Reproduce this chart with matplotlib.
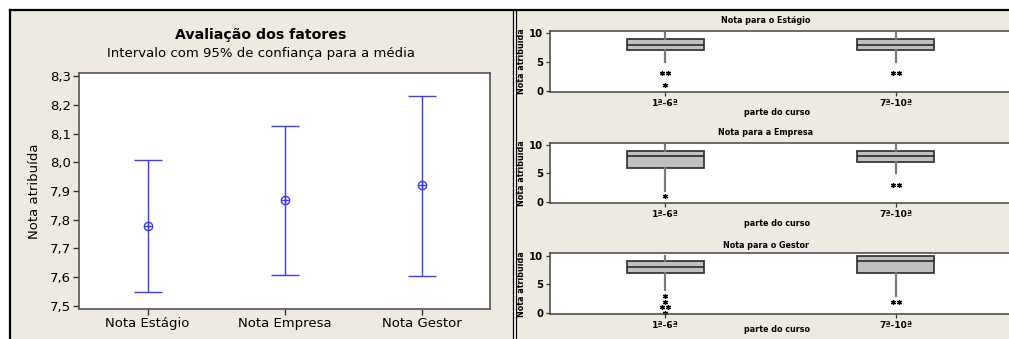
import numpy as np
import matplotlib
matplotlib.use("Agg")
import matplotlib.pyplot as plt
from matplotlib.lines import Line2D

plt.rcParams['font.family'] = ['DejaVu Sans']

# Left chart: 95% CI for the mean
factors = ["Nota Estágio", "Nota Empresa", "Nota Gestor"]
means = [7.778, 7.868, 7.920]
ci_low = [7.547, 7.608, 7.605]
ci_high = [8.008, 8.127, 8.232]
y_ticks_left = [7.5, 7.6, 7.7, 7.8, 7.9, 8.0, 8.1, 8.2, 8.3]

# Right charts: boxplots by part of the course
groups = ["1ª-6ª", "7ª-10ª"]
panel_titles = ["Nota para o Estágio", "Nota para a Empresa", "Nota para o Gestor"]
q1 = [[7, 7], [6, 7], [7, 7]]
medians = [[8, 8], [8, 8], [8, 9]]
q3 = [[9, 9], [9, 9], [9, 10]]
whis_lo = [[5, 5], [2, 5], [4, 3]]
whis_hi = [[10, 10], [10, 10], [10, 10]]
outliers = [[[3, 3, 1], [3, 3]],
            [[1], [3, 3]],
            [[3, 2, 1, 1, 0], [2, 2]]]

W, H = 1009, 339
BEIGE = "#EEEAE1"
BLUE = "#3C3CFF"


def rect(x0, y0, x1, y1):
    return [x0 / W, 1 - y1 / H, (x1 - x0) / W, (y1 - y0) / H]


fig = plt.figure(figsize=(W / 100, H / 100), dpi=100, facecolor="white")

# panel backgrounds and borders
bg = fig.add_axes([0, 0, 1, 1])
bg.set_xlim(0, W)
bg.set_ylim(H, 0)
bg.axis("off")
bg.add_patch(plt.Rectangle((10, 10), 503, 330, color=BEIGE, lw=0))
bg.add_patch(plt.Rectangle((516, 10), 500, 330, color=BEIGE, lw=0))
bg.add_line(Line2D([10, W], [10, 10], color="black", lw=1.6))
bg.add_line(Line2D([10, 10], [10, H], color="black", lw=1.6))
bg.add_line(Line2D([513, 513], [10, H], color="black", lw=0.9))
bg.add_line(Line2D([515.5, 515.5], [10, H], color="black", lw=0.9))

# ---- left chart ----
ax = fig.add_axes(rect(79, 73, 490, 309))
x = np.arange(1, len(factors) + 1)
means_arr = np.array(means)
yerr = [means_arr - np.array(ci_low), np.array(ci_high) - means_arr]
ax.errorbar(x, means, yerr=yerr, fmt="none", ecolor=BLUE, elinewidth=1.0,
            capsize=10, capthick=1.0)
ax.plot(x, means, "o", ms=6, mfc="none", mec=BLUE, mew=1.0)
ax.plot(x, means, "+", ms=6, mec=BLUE, mew=1.0)
ax.set_xlim(0.5, 3.5)
ax.set_ylim(7.489, 8.311)
ax.set_yticks(y_ticks_left)
ax.set_yticklabels([f"{v:.1f}".replace(".", ",") for v in y_ticks_left], fontsize=9.5)
ax.set_xticks(x)
ax.set_xticklabels(factors, fontsize=9.5)
ax.set_ylabel("Nota atribuída", fontsize=9.5, labelpad=6)
for s in ax.spines.values():
    s.set_color("#555555")
    s.set_linewidth(1.2)
ax.tick_params(length=4, width=1, color="#333333", pad=2)
fig.text(261 / W, 1 - 35 / H, "Avaliação dos fatores", ha="center", va="center",
         fontsize=10.2, fontweight="bold")
fig.text(261 / W, 1 - 54 / H, "Intervalo com 95% de confiança para a média",
         ha="center", va="center", fontsize=9.5)

# ---- right charts ----
axes_y = [(30.7, 92), (142.7, 203.3), (253.3, 314.3)]
title_y = [20.7, 132.3, 245]
xlabel_y = [112.3, 223.7, 329]

for p in range(3):
    y0, y1 = axes_y[p]
    bx = fig.add_axes(rect(550, y0, 1011, y1))
    stats = []
    for g in range(2):
        stats.append(dict(med=medians[p][g], q1=q1[p][g], q3=q3[p][g],
                          whislo=whis_lo[p][g], whishi=whis_hi[p][g], fliers=[]))
    bx.bxp(stats, positions=[1, 2], widths=0.333, showfliers=False,
           showcaps=False, patch_artist=True,
           boxprops=dict(facecolor="#C0C0C0", edgecolor="#2A2A2A", linewidth=1.2),
           medianprops=dict(color="#2A2A2A", linewidth=1.2),
           whiskerprops=dict(color="#7A7A7A", linewidth=1.6))
    for g in range(2):
        vals = outliers[p][g]
        for v in sorted(set(vals)):
            n = vals.count(v)
            offs = (np.arange(n) - (n - 1) / 2) * 0.026
            bx.plot(g + 1 + offs, [v] * n, linestyle="none", marker=(6, 2, 0),
                    ms=3.6, mew=0.9, color="black")
    bx.set_xlim(0.5, 2.5)
    bx.set_ylim(-0.23, 10.4)
    bx.set_yticks([0, 5, 10])
    bx.set_yticklabels(["0", "5", "10"], fontsize=7.3, fontweight="bold")
    bx.set_xticks([1, 2])
    bx.set_xticklabels(groups, fontsize=6.6, fontweight="bold")
    bx.set_ylabel("Nota atribuída", fontsize=5.8, fontweight="bold", labelpad=2)
    for s in bx.spines.values():
        s.set_color("#444444")
        s.set_linewidth(1.1)
    bx.tick_params(length=3, width=0.9, color="#333333", pad=2)
    fig.text(766 / W, 1 - title_y[p] / H, panel_titles[p], ha="center", va="center",
             fontsize=5.8, fontweight="bold")
    fig.text(777 / W, 1 - xlabel_y[p] / H, "parte do curso", ha="center", va="center",
             fontsize=5.8, fontweight="bold")

fig.savefig("out.png", dpi=100, facecolor="white")
